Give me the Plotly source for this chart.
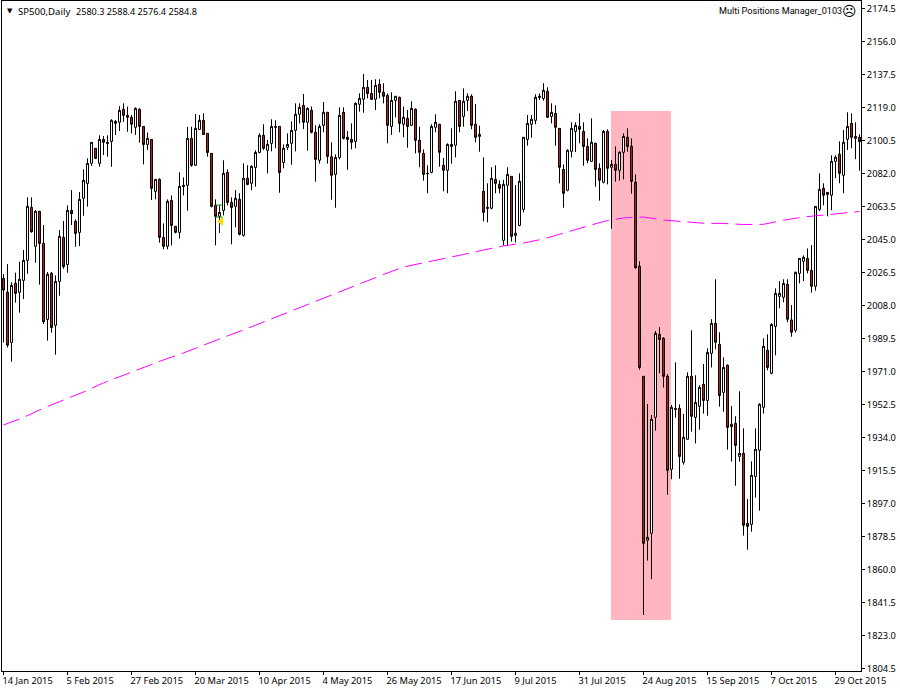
import plotly.graph_objects as go

opens = [
2023.2,2015.4,1987.3,2020.4,2015.4,2022.1,2033.3,2063.0,2041.2,2060.8,
2042.8,2000.2,2026.0,1996.9,2021.5,2046.2,2031.0,2061.3,2055.2,2049.0,
2068.1,2076.5,2087.7,2096.1,2087.7,2101.1,2099.5,2100.0,2111.2,2110.7,
2118.0,2114.6,2113.5,2107.9,2118.0,2108.4,2098.3,2101.1,2072.0,2078.7,
2046.2,2041.2,2066.9,2052.4,2049.0,2075.4,2075.4,2101.7,2086.6,2106.7,
2111.8,2104.5,2093.3,2064.1,2058.0,2061.3,2082.6,2065.8,2063.6,2067.5,
2047.3,2079.3,2076.5,2085.4,2093.8,2103.4,2095.0,2098.9,2108.4,2108.4,
2088.2,2096.7,2098.9,2106.2,2115.2,2120.2,2110.7,2117.4,2105.1,2089.4,
2109.0,2116.3,2091.4,2081.5,2091.0,2116.3,2102.3,2101.1,2100.0,2120.8,
2123.6,2130.3,2126.9,2123.6,2132.0,2127.5,2125.8,2108.4,2123.0,2124.7,
2109.6,2112.9,2109.0,2118.0,2100.6,2093.3,2082.1,2082.6,2107.9,2109.6,
2086.6,2083.8,2098.3,2097.8,2123.0,2114.0,2123.0,2125.3,2109.6,2102.8,
2072.0,2063.0,2062.5,2078.7,2075.9,2044.5,2075.4,2080.4,2047.3,2052.9,
2061.9,2101.1,2109.6,2111.8,2125.3,2124.1,2128.1,2114.0,2115.7,2107.3,
2084.3,2072.6,2094.4,2105.6,2108.4,2105.6,2097.2,2088.8,2098.9,2084.9,
2077.1,2105.6,2085.5,2087.1,2083.8,2093.9,2102.3,2097.2,2077.1,2030.0,
1968.3,1876.4,1880.3,1945.3,1991.8,1989.6,1968.3,1916.2,1950.3,1950.3,
1920.1,1933.0,1968.3,1945.3,1951.5,1963.8,1954.8,1981.2,1998.0,1986.2,
1959.3,1974.5,1940.1,1941.9,1923.4,1925.1,1885.9,1885.3,1912.2,1926.8,
1950.9,1982.9,1970.0,1996.3,2013.1,2012.6,2019.9,1999.9,1994.1,2026.0,
2032.8,2034.4,2027.7,2018.8,2061.9,2073.7,2071.4,2069.8,2088.8,2092.8,
2081.0,2101.2,2110.1,2101.7,2102.3,
]
highs = [
2025.6,2031.2,2021.0,2026.4,2032.6,2039.1,2068.6,2068.6,2061.5,2061.0,
2053.1,2026.8,2026.8,2024.9,2050.3,2055.4,2064.1,2072.7,2056.3,2071.6,
2084.3,2090.5,2099.5,2096.3,2103.4,2103.0,2103.4,2112.4,2112.0,2119.8,
2121.3,2119.5,2114.8,2119.1,2118.5,2108.6,2105.0,2101.2,2078.8,2079.3,
2054.0,2067.5,2069.7,2052.5,2082.6,2079.8,2108.2,2108.2,2115.3,2114.8,
2115.7,2104.6,2093.4,2067.5,2064.1,2089.4,2084.3,2068.6,2072.7,2070.9,
2087.7,2086.6,2086.6,2095.0,2104.5,2109.6,2100.8,2112.4,2111.8,2108.5,
2098.3,2104.5,2111.2,2121.3,2121.3,2126.6,2119.1,2119.6,2109.0,2109.6,
2122.1,2116.5,2099.5,2092.7,2119.1,2119.1,2105.8,2110.1,2121.9,2126.9,
2137.8,2134.4,2134.4,2134.8,2134.8,2132.6,2126.9,2127.5,2125.3,2125.1,
2119.5,2117.6,2122.5,2118.5,2108.2,2095.5,2086.6,2109.6,2115.2,2109.7,
2090.7,2098.9,2107.3,2128.1,2123.2,2129.7,2126.9,2126.4,2120.9,2108.8,
2091.0,2076.5,2085.5,2086.6,2078.2,2078.4,2085.5,2080.6,2075.5,2082.1,
2102.4,2114.8,2114.8,2126.4,2126.9,2132.6,2130.3,2121.3,2120.2,2107.4,
2087.1,2095.5,2110.7,2110.7,2115.7,2110.7,2101.7,2112.9,2099.3,2087.7,
2106.4,2106.8,2089.6,2097.2,2094.4,2104.5,2107.3,2101.7,2081.5,2032.8,
1968.5,1952.8,1946.6,1993.7,1995.8,1990.2,1969.6,1952.2,1976.1,1952.6,
1947.2,1970.5,1994.1,1968.9,1963.3,1975.2,1984.0,2000.3,2022.7,1993.0,
1978.9,1975.0,1951.7,1945.9,1959.9,1939.1,1899.5,1920.6,1939.1,1953.2,
1989.6,1991.8,1998.0,2017.6,2021.7,2022.7,2022.7,2008.3,2027.0,2034.5,
2036.1,2040.0,2041.9,2063.7,2082.1,2076.5,2071.5,2092.2,2092.2,2100.0,
2106.4,2116.3,2115.7,2110.7,2104.0,
]
lows = [
1987.3,1984.5,1976.5,2009.6,2004.0,2011.6,2025.8,2048.8,2032.0,2019.7,
1997.6,1988.3,1992.8,1980.4,2013.5,2028.6,2026.4,2053.1,2041.0,2041.3,
2058.3,2063.4,2086.2,2090.1,2085.8,2092.4,2091.4,2085.8,2103.6,2105.8,
2110.9,2105.4,2104.5,2103.6,2099.3,2087.1,2095.2,2067.1,2067.5,2043.2,
2039.5,2039.5,2041.7,2048.4,2045.5,2069.7,2061.1,2085.8,2086.4,2106.5,
2103.6,2091.4,2063.0,2041.7,2055.9,2058.5,2064.1,2042.3,2051.8,2047.3,
2046.6,2075.4,2072.6,2074.6,2093.3,2095.2,2082.1,2094.4,2096.1,2071.2,
2084.9,2095.2,2086.9,2094.4,2110.1,2106.9,2094.8,2104.5,2077.4,2087.5,
2105.1,2087.5,2067.3,2062.8,2089.9,2101.1,2084.1,2095.5,2096.1,2116.7,
2116.1,2124.1,2123.2,2117.6,2124.1,2121.3,2098.9,2103.6,2113.5,2105.1,
2102.3,2096.5,2108.6,2093.3,2085.5,2078.0,2070.9,2082.1,2105.1,2085.8,
2072.0,2070.9,2087.5,2091.0,2105.1,2108.2,2117.0,2106.8,2099.5,2094.2,
2055.2,2054.6,2061.9,2070.9,2070.9,2041.7,2041.7,2043.8,2043.4,2052.4,
2060.2,2097.6,2102.1,2109.6,2123.2,2122.8,2113.1,2110.1,2097.6,2076.5,
2062.8,2072.0,2091.0,2094.0,2098.9,2086.4,2087.7,2088.6,2074.6,2066.8,
2076.5,2075.9,2051.1,2077.4,2078.0,2078.7,2094.2,2070.7,2028.6,1972.0,
1834.5,1865.0,1854.5,1937.8,1970.0,1962.0,1901.9,1910.6,1945.1,1910.9,
1918.8,1932.8,1937.3,1930.7,1938.4,1947.4,1946.2,1973.3,1983.4,1951.3,
1948.5,1927.2,1920.5,1907.0,1920.5,1879.0,1871.1,1881.2,1900.3,1893.0,
1947.4,1971.7,1969.4,1980.1,2006.4,2009.8,1998.6,1990.5,1992.8,2020.4,
2021.7,2026.0,2015.2,2016.3,2061.0,2064.2,2058.0,2061.4,2079.3,2076.5,
2070.9,2095.2,2096.1,2090.0,2083.6,
]
closes = [
2016.7,1985.8,2019.3,2014.8,2022.7,2033.3,2063.6,2049.4,2060.8,2042.8,
1998.9,2025.5,1995.7,2021.5,2046.8,2029.8,2061.3,2059.5,2048.4,2067.5,
2078.2,2087.7,2099.5,2090.5,2101.1,2099.5,2098.9,2111.8,2110.1,2117.4,
2114.6,2113.5,2109.6,2118.5,2108.4,2098.3,2101.7,2073.7,2078.7,2046.2,
2041.2,2066.4,2052.9,2049.0,2074.8,2074.8,2101.7,2086.6,2107.3,2111.8,
2103.9,2093.8,2063.6,2058.0,2060.2,2082.1,2065.8,2063.0,2068.1,2047.9,
2079.3,2075.9,2086.0,2093.8,2103.4,2096.1,2098.3,2108.4,2107.9,2082.6,
2096.1,2098.3,2106.2,2115.2,2119.1,2110.7,2118.5,2105.1,2089.9,2108.4,
2116.3,2091.6,2081.0,2091.0,2114.6,2101.7,2101.1,2099.5,2121.3,2124.1,
2130.3,2126.9,2123.6,2131.4,2127.5,2125.3,2109.0,2123.0,2125.3,2110.1,
2113.5,2108.4,2118.5,2100.6,2093.9,2081.5,2081.9,2108.4,2110.7,2093.9,
2083.8,2098.3,2097.2,2122.5,2108.4,2122.5,2125.3,2109.0,2102.3,2103.9,
2060.2,2062.5,2079.3,2076.5,2073.7,2075.9,2081.5,2046.8,2048.5,2077.6,
2102.3,2110.1,2112.4,2124.7,2124.7,2128.6,2113.5,2116.3,2107.9,2085.5,
2070.9,2095.0,2107.3,2109.0,2106.8,2097.2,2089.4,2099.5,2084.3,2078.2,
2105.6,2084.9,2087.1,2083.8,2093.9,2102.8,2097.2,2077.6,2029.2,1973.3,
1874.7,1878.0,1944.2,1992.4,1989.0,1968.3,1915.6,1950.9,1949.8,1923.4,
1934.1,1968.3,1945.9,1953.7,1962.1,1954.8,1981.7,1998.0,1987.4,1957.6,
1973.3,1939.7,1941.4,1929.6,1925.1,1884.8,1884.2,1912.8,1927.4,1952.6,
1985.1,1973.3,1997.4,2014.8,2014.8,2020.4,2000.3,1993.0,2026.6,2034.4,
2035.0,2027.7,2018.8,2063.6,2073.1,2069.8,2070.3,2088.8,2091.1,2082.1,
2099.5,2108.4,2102.3,2102.8,2099.9,
]
bar_index = list(range(len(opens)))

ma_bars = [0,5,10,15,20,25,30,35,40,45,50,55,60,65,70,75,80,85,90,95,100,105,
           110,115,120,125,130,135,140,145,150,155,160,165,170,175,180,185,190,
           195,200,205,210,214]
ma_values = [1941.0,1945.2,1950.5,1955.0,1959.5,1964.6,1969.0,1973.5,1977.5,1981.4,
             1985.9,1990.1,1994.3,1998.8,2003.2,2007.4,2011.9,2016.4,2020.9,2025.4,
             2029.6,2031.8,2034.4,2036.6,2039.1,2041.4,2043.0,2045.3,2048.6,2052.0,
             2055.1,2057.1,2057.6,2055.9,2054.8,2054.1,2054.0,2053.4,2053.5,2055.8,
             2057.6,2058.6,2059.6,2060.7]

date_ticks = [0,16,32,48,64,80,96,112,128,144,160,176,192,208]
date_labels = ["14 Jan 2015","5 Feb 2015","27 Feb 2015","20 Mar 2015","10 Apr 2015",
               "4 May 2015","26 May 2015","17 Jun 2015","9 Jul 2015","31 Jul 2015",
               "24 Aug 2015","15 Sep 2015","7 Oct 2015","29 Oct 2015"]

FONT = "Noto Sans"

fig = go.Figure()
fig.add_trace(go.Scatter(x=ma_bars, y=ma_values, mode="lines", showlegend=False, hoverinfo="skip",
                         line=dict(color="#FF00FF", width=1, dash="17px,7px")))
fig.add_trace(go.Candlestick(
    x=bar_index, open=opens, high=highs, low=lows, close=closes, showlegend=False,
    whiskerwidth=0,
    increasing=dict(fillcolor="#FFFFFF", line=dict(color="#000000", width=1)),
    decreasing=dict(fillcolor="#C81414", line=dict(color="#000000", width=1)),
))
fig.add_trace(go.Scatter(x=[54, 54], y=[2054.3, 2048.6], mode="lines", showlegend=False,
                         hoverinfo="skip", line=dict(color="#0000FF", width=1)))
fig.add_trace(go.Scatter(x=[54.4], y=[2055.1], mode="markers", showlegend=False, hoverinfo="skip",
                         marker=dict(symbol="triangle-left", color="#FFD700", size=8, line=dict(width=0))))

fig.add_shape(type="rect", x0=151.875, x1=166.875, y0=1831.7, y1=2117.0, layer="below",
              fillcolor="#FFB6C1", line=dict(width=0))
for level in (2064.3, 2057.6):
    fig.add_shape(type="line", x0=53, x1=54.75, y0=level, y1=level, layer="above",
                  line=dict(color="#008000", width=1))

def note(text, px, py, anchor, size=9.5, family=FONT):
    fig.add_annotation(text=text, xref="paper", yref="paper", x=(px - 2) / 859, y=1 - (py - 1) / 670,
                       xanchor=anchor, yanchor="middle", showarrow=False,
                       font=dict(family=family, size=size, color="#000000"))

note("▼", 10, 10.5, "center", size=7, family="DejaVu Sans")
note("SP500,Daily", 16, 11, "left", size=9.6)
note("2580.3 2588.4 2576.4 2584.8", 74, 11, "left", size=9.1)
note("Multi Positions Manager_0103", 843.5, 11.5, "right", size=9.1, family="Roboto")
note("☹", 849.5, 11, "center", size=14, family="DejaVu Sans")

axis_common = dict(showgrid=False, zeroline=False, showline=True, mirror=True, linecolor="#000000",
                   linewidth=1, ticks="outside", ticklen=3, tickcolor="#000000", tickwidth=1,
                   tickfont=dict(family=FONT, size=9.3, color="#000000"))
fig.update_layout(
    width=900, height=692, margin=dict(l=2, r=39, t=1, b=21), autosize=False,
    paper_bgcolor="#FFFFFF", plot_bgcolor="#FFFFFF", showlegend=False, boxgap=0.5, boxgroupgap=0,
    xaxis=dict(type="linear", range=[-0.375, 214.375], tickmode="array", tickvals=date_ticks,
               ticktext=date_labels, ticklabelposition="outside right", tickangle=0,
               ticklabelshift=-2, ticklabelstandoff=1,
               rangeslider=dict(visible=False), **axis_common),
    yaxis=dict(side="right", range=[1803.1, 2178.7], tick0=1804.5, dtick=18.5, tickformat=".1f",
               **axis_common),
)
fig.write_html("out.html", config=dict(displayModeBar=False),
               post_script="document.body.style.margin='0';document.body.style.overflow='hidden';")
